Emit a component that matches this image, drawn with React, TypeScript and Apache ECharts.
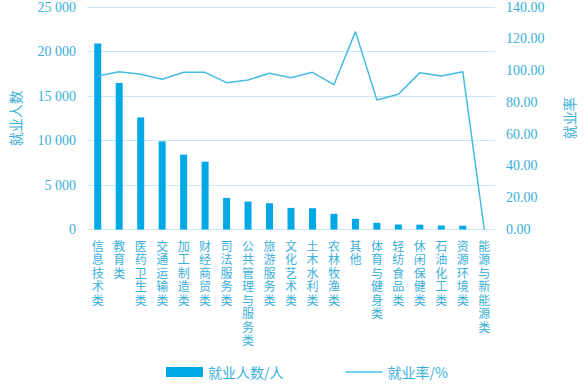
import React, { useEffect, useRef } from "react";
import * as echarts from "echarts";

const categories = [
  "信息技术类", "教育类", "医药卫生类", "交通运输类", "加工制造类", "财经商贸类",
  "司法服务类", "公共管理与服务类", "旅游服务类", "文化艺术类", "土木水利类",
  "农林牧渔类", "其他", "体育与健身类", "轻纺食品类", "休闲保健类", "石油化工类",
  "资源环境类", "能源与新能源类",
];
const employed = [
  20900, 16450, 12590, 9900, 8410, 7620, 3550, 3140, 2950, 2430, 2390,
  1760, 1200, 750, 560, 540, 450, 430, 0,
];
const employmentRate = [
  96.6, 99.3, 97.7, 94.5, 98.9, 98.9, 92.4, 94.1, 98.3, 95.5, 98.9,
  91.1, 124.5, 81.5, 85.1, 98.7, 96.6, 99.3, 0,
];
const leftTicks = [0, 5000, 10000, 15000, 20000, 25000];
const rightTicks = [0, 20, 40, 60, 80, 100, 120, 140];

const TEXT = "#3aafd9";
const LINE = "#45bbe2";
const NUMFONT = "Liberation Serif, Times New Roman, serif";
const CJKFONT = "Noto Sans CJK SC";

export default function App() {
  const ref = useRef<HTMLDivElement>(null);
  useEffect(() => {
    if (!ref.current) return;
    const chart = echarts.init(ref.current, null, { renderer: "svg" });
    chart.setOption({
      animation: false,
      textStyle: { fontFamily: NUMFONT, color: TEXT },
      grid: { left: 78, right: 84, top: 7, bottom: 154.5 },
      legend: {
        left: 161,
        top: 360,
        itemWidth: 37,
        itemHeight: 10,
        itemGap: 62,
        textStyle: { color: TEXT, fontSize: 14, fontFamily: CJKFONT },
        data: [
          { name: "就业人数/人", icon: "rect" },
          { name: "就业率/%", icon: "path://M0,0 H74 V3 H0 Z", itemStyle: { color: LINE } },
        ],
      },
      xAxis: {
        type: "category",
        data: categories,
        axisLine: { show: false },
        axisTick: { show: false },
        axisLabel: {
          interval: 0,
          margin: 9,
          color: TEXT,
          fontSize: 12,
          lineHeight: 13.5,
          fontFamily: CJKFONT,
          verticalAlign: "top",
          formatter: (v: string) => v.split("").join("\n"),
        },
      },
      yAxis: [
        {
          type: "value",
          min: leftTicks[0],
          max: leftTicks[leftTicks.length - 1],
          interval: 5000,
          name: "就业人数",
          nameLocation: "middle",
          nameRotate: 90,
          nameGap: 65,
          nameTextStyle: { color: TEXT, fontSize: 14, fontFamily: CJKFONT },
          axisLine: { show: false },
          axisTick: { show: false },
          axisLabel: {
            color: TEXT,
            fontSize: 14,
            margin: 11,
            fontFamily: NUMFONT,
            formatter: (v: number) => String(v).replace(/\B(?=(\d{3})+(?!\d))/g, " "),
          },
          splitLine: { lineStyle: { color: "#c8e8f5", width: 1 } },
        },
        {
          type: "value",
          min: rightTicks[0],
          max: rightTicks[rightTicks.length - 1],
          interval: 20,
          name: "就业率",
          nameLocation: "middle",
          nameRotate: 90,
          nameGap: 67,
          nameTextStyle: { color: TEXT, fontSize: 14, fontFamily: CJKFONT },
          axisLine: { show: false },
          axisTick: { show: false },
          axisLabel: {
            color: TEXT,
            fontSize: 14,
            margin: 11,
            fontFamily: NUMFONT,
            formatter: (v: number) => v.toFixed(2),
          },
          splitLine: { show: false },
        },
      ],
      series: [
        {
          name: "就业人数/人",
          type: "bar",
          data: employed,
          barWidth: 7,
          itemStyle: { color: "#00a8e6" },
        },
        {
          name: "就业率/%",
          type: "line",
          yAxisIndex: 1,
          data: employmentRate,
          symbol: "none",
          lineStyle: { color: LINE, width: 1.5 },
          itemStyle: { color: LINE },
        },
      ],
    });
    return () => chart.dispose();
  }, []);
  return (
    <div
      ref={ref}
      style={{ position: "fixed", left: 0, top: 0, width: 584, height: 384, background: "#fff" }}
    />
  );
}
